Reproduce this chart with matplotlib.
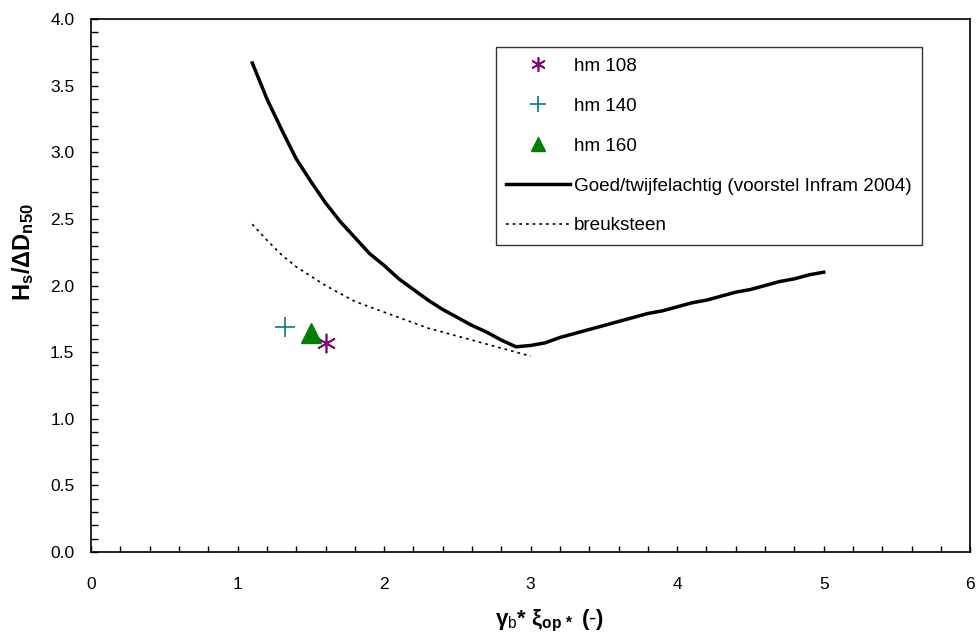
import numpy as np
import matplotlib.pyplot as plt
from matplotlib.ticker import MultipleLocator

plt.rcParams['font.family'] = ['Liberation Sans', 'DejaVu Sans']
plt.rcParams['mathtext.fontset'] = 'custom'
plt.rcParams['mathtext.rm'] = 'Liberation Sans'
plt.rcParams['mathtext.it'] = 'Liberation Sans'
plt.rcParams['mathtext.bf'] = 'Liberation Sans:bold'

# measured points
hm108_x = [1.60]
hm108_y = [1.57]
hm140_x = [1.32]
hm140_y = [1.69]
hm160_x = [1.50]
hm160_y = [1.64]

# Goed/twijfelachtig curve
goed_x = [1.1, 1.2, 1.3, 1.4, 1.5, 1.6, 1.7, 1.8, 1.9, 2.0, 2.1, 2.2, 2.3, 2.4,
          2.5, 2.6, 2.7, 2.8, 2.9, 3.0, 3.1, 3.2, 3.3, 3.4, 3.5, 3.6, 3.7, 3.8,
          3.9, 4.0, 4.1, 4.2, 4.3, 4.4, 4.5, 4.6, 4.7, 4.8, 4.9, 5.0]
goed_y = [3.67, 3.40, 3.17, 2.95, 2.78, 2.62, 2.48, 2.36, 2.24, 2.15, 2.05, 1.97,
          1.89, 1.82, 1.76, 1.70, 1.65, 1.59, 1.54, 1.55, 1.57, 1.61, 1.64, 1.67,
          1.70, 1.73, 1.76, 1.79, 1.81, 1.84, 1.87, 1.89, 1.92, 1.95, 1.97, 2.00,
          2.03, 2.05, 2.08, 2.10]

# breuksteen curve
breuk_x = [1.1, 1.2, 1.3, 1.4, 1.5, 1.6, 1.7, 1.8, 1.9, 2.0, 2.1, 2.2, 2.3, 2.4,
           2.5, 2.6, 2.7, 2.8, 2.9, 3.0]
breuk_y = [2.46, 2.34, 2.23, 2.14, 2.07, 2.00, 1.94, 1.88, 1.84, 1.80, 1.76, 1.72,
           1.68, 1.65, 1.62, 1.59, 1.56, 1.53, 1.50, 1.47]

fig = plt.figure(figsize=(9.8, 6.37), dpi=100)
ax = fig.add_axes([0.093, 0.1334, 0.897, 0.8368])

ax.plot(hm108_x, hm108_y, ls='none', marker=(6, 2, 0), ms=14, mew=1.2,
        color='#800080', label='hm 108')
ax.plot(hm140_x, hm140_y, ls='none', marker='+', ms=15, mew=1.2,
        color='#008080', label='hm 140')
ax.plot(hm160_x, hm160_y, ls='none', marker='^', ms=14,
        color='#008000', label='hm 160')
ax.plot(goed_x, goed_y, color='black', lw=2.5,
        label='Goed/twijfelachtig (voorstel Infram 2004)')
ax.plot(breuk_x, breuk_y, color='black', lw=1.2, ls=(0, (1.6, 2.4)),
        label='breuksteen')

ax.set_xlim(0, 6)
ax.set_ylim(0, 4)
ax.xaxis.set_major_locator(MultipleLocator(1))
ax.xaxis.set_minor_locator(MultipleLocator(0.2))
ax.yaxis.set_major_locator(MultipleLocator(0.5))
ax.yaxis.set_minor_locator(MultipleLocator(0.1))
ax.yaxis.set_major_formatter(plt.FormatStrFormatter('%.1f'))
ax.tick_params(which='both', direction='in', top=False, right=False,
               labelsize=12.5, width=1)
ax.tick_params(axis='x', which='both', length=4, pad=18)
ax.tick_params(axis='y', which='both', length=5, pad=12)
for s in ax.spines.values():
    s.set_linewidth(1.2)

ax.set_xlabel(r'$\mathbf{\gamma}$$_\mathrm{b}$$\mathbf{*\ \xi_{op\,*}}$ $\mathbf{(\text{-})}$',
              fontsize=16)
ax.xaxis.set_label_coords(0.521, -0.105)
ax.set_ylabel(r'$\mathbf{H_s/\Delta D_{n50}}$', fontsize=17)
ax.yaxis.set_label_coords(-0.063, 0.563)

leg = ax.legend(loc='upper left', bbox_to_anchor=(0.46, 0.947), fontsize=13.6,
                frameon=True, fancybox=False, edgecolor='black',
                handlelength=3.4, handletextpad=0.2, labelspacing=1.2,
                borderpad=0.55, borderaxespad=0, markerscale=0.75)
leg.get_frame().set_linewidth(1.0)

plt.savefig('out.png', dpi=100)
